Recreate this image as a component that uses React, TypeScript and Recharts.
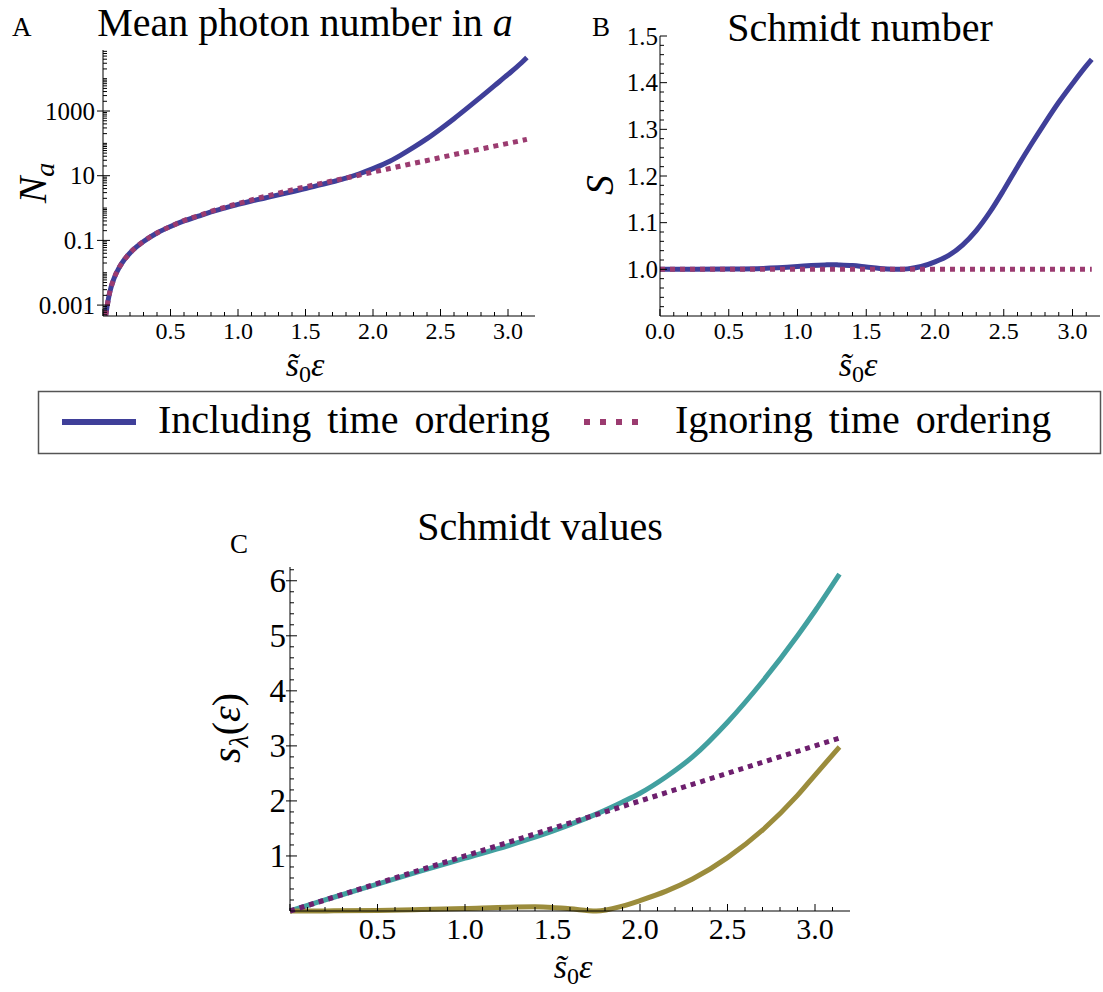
import { LineChart, Line, XAxis, YAxis } from 'recharts';

const FONT = "'Liberation Serif', 'DejaVu Serif', 'Noto Serif', Tinos, 'Times New Roman', Times, 'Nimbus Roman', FreeSerif, serif";
const BLUE = '#3f3f99';
const PINK = '#9b3b70';
const PURPLE = '#6e1f6e';
const TEAL = '#42a0a0';
const OLIVE = '#9b8c3c';

// Panel A: mean photon number (log scale)
const A_X = [0.02, 0.03, 0.05, 0.08, 0.12, 0.16, 0.2, 0.25, 0.3, 0.4, 0.5, 0.6, 0.7, 0.8, 0.9, 1.0, 1.1, 1.2, 1.3, 1.4, 1.5, 1.6, 1.7, 1.8, 1.9, 2.0, 2.1, 2.2, 2.3, 2.4, 2.5, 2.6, 2.7, 2.8, 2.9, 3.0, 3.1, 3.14];
const A_SOLID = [0.00048, 0.0009, 0.0025, 0.0064, 0.0145, 0.026, 0.041, 0.064, 0.093, 0.17, 0.27, 0.4, 0.55, 0.76, 1.0, 1.3, 1.65, 2.05, 2.55, 3.2, 4.0, 5.1, 6.5, 8.4, 11.5, 16.5, 25, 42, 75, 140, 280, 580, 1250, 2750, 6100, 13500, 31000, 45000];
const A_DASHED = [0.00048, 0.0009, 0.0025, 0.0064, 0.0145, 0.026, 0.041, 0.064, 0.093, 0.17, 0.27, 0.41, 0.57, 0.79, 1.05, 1.38, 1.78, 2.28, 2.89, 3.64, 4.53, 5.6, 6.9, 8.5, 10.5, 13, 15.9, 19.6, 24.2, 29.5, 36.5, 45, 55, 67, 82, 100, 122, 133];

// Panel B: Schmidt number
const B_X = [0, 0.25, 0.5, 0.75, 1.0, 1.1, 1.2, 1.25, 1.3, 1.4, 1.5, 1.6, 1.7, 1.75, 1.8, 1.9, 2.0, 2.1, 2.2, 2.3, 2.4, 2.5, 2.6, 2.7, 2.8, 2.9, 3.0, 3.1, 3.14];
const B_SOLID = [1.0, 1.0, 1.0005, 1.002, 1.006, 1.008, 1.0095, 1.01, 1.0095, 1.008, 1.005, 1.002, 1.0003, 1.0, 1.001, 1.006, 1.016, 1.03, 1.052, 1.083, 1.123, 1.17, 1.22, 1.268, 1.314, 1.358, 1.398, 1.436, 1.45];
const B_DASHED = [1, 1, 1, 1, 1, 1, 1, 1, 1, 1, 1, 1, 1, 1, 1, 1, 1, 1, 1, 1, 1, 1, 1, 1, 1, 1, 1, 1, 1];

// Panel C: Schmidt values
const C_X = [0, 0.1, 0.25, 0.5, 0.75, 1.0, 1.25, 1.4, 1.5, 1.6, 1.75, 1.9, 2.0, 2.15, 2.3, 2.5, 2.7, 2.9, 3.0, 3.14];
const C_FIRST = [0, 0.1, 0.25, 0.49, 0.73, 0.96, 1.19, 1.34, 1.45, 1.57, 1.76, 1.98, 2.14, 2.44, 2.8, 3.43, 4.17, 5.0, 5.45, 6.12];
const C_SECOND = [0, 0, 0.003, 0.01, 0.025, 0.045, 0.07, 0.075, 0.065, 0.04, 0, 0.09, 0.19, 0.36, 0.58, 0.97, 1.47, 2.1, 2.47, 2.98];
const C_IGNORED = [0, 0.1, 0.25, 0.5, 0.75, 1.0, 1.25, 1.4, 1.5, 1.6, 1.75, 1.9, 2.0, 2.15, 2.3, 2.5, 2.7, 2.9, 3.0, 3.14];

// ticks
const X_TICKS = [0, 0.1, 0.2, 0.3, 0.4, 0.5, 0.6, 0.7, 0.8, 0.9, 1.0, 1.1, 1.2, 1.3, 1.4, 1.5, 1.6, 1.7, 1.8, 1.9, 2.0, 2.1, 2.2, 2.3, 2.4, 2.5, 2.6, 2.7, 2.8, 2.9, 3.0, 3.1];
const A_Y_MAJOR = [0.001, 0.1, 10, 1000];
const B_Y_MAJOR = [1.0, 1.1, 1.2, 1.3, 1.4, 1.5];
const C_Y_MAJOR = [1, 2, 3, 4, 5, 6];

const A_Y_TICKS: number[] = [];
for (let k = -4; k <= 4; k++) {
  for (let m = 1; m <= 9; m++) {
    const v = m * Math.pow(10, k);
    if (v >= 0.00046 && v <= 77000) A_Y_TICKS.push(v);
  }
}
const B_Y_TICKS: number[] = [];
for (let i = 46; i <= 75; i++) B_Y_TICKS.push(i / 50);
const C_Y_TICKS: number[] = [];
for (let i = 1; i <= 31; i++) C_Y_TICKS.push(i / 5);

const aData = A_X.map((x, i) => ({ x, solid: A_SOLID[i], dashed: A_DASHED[i] }));
const bData = B_X.map((x, i) => ({ x, solid: B_SOLID[i], dashed: B_DASHED[i] }));
const cData = C_X.map((x, i) => ({ x, first: C_FIRST[i], second: C_SECOND[i], ignored: C_IGNORED[i] }));

const near = (a: number, list: number[]) => list.some(b => Math.abs(a - b) < 1e-6 * Math.max(1, Math.abs(b)) + 1e-9);

const XTick = (props: any) => {
  const { x, y, payload, labelZero, fs, base } = props;
  const v = payload.value;
  const major = Math.abs(v * 2 - Math.round(v * 2)) < 1e-6;
  const show = major && (labelZero || v > 0.01);
  return (
    <g>
      <line x1={x} x2={x} y1={y} y2={y - (major ? 7 : 4)} stroke="#000" strokeWidth={1} />
      {show && (
        <text x={x} y={y + base} textAnchor="middle" fontSize={fs} style={{ fontFamily: FONT }} fill="#000">
          {v.toFixed(1)}
        </text>
      )}
    </g>
  );
};

const YTick = (props: any) => {
  const { x, y, payload, majors, fmt, fs, gap, out } = props;
  const v = payload.value;
  const major = near(v, majors);
  return (
    <g>
      <line x1={x - (major ? out : 0)} x2={x + (major ? 7 : 4)} y1={y} y2={y} stroke="#000" strokeWidth={1} />
      {major && (
        <text x={x - gap} y={y} dy="0.34em" textAnchor="end" fontSize={fs} style={{ fontFamily: FONT }} fill="#000">
          {fmt(v)}
        </text>
      )}
    </g>
  );
};

const axisLine = { stroke: '#000', strokeWidth: 1 };

const EpsLabel = ({ x, y }: { x: number; y: number }) => (
  <text x={x} y={y} fontSize={34} textAnchor="middle">
    <tspan fontStyle="italic">{'s\u0303'}</tspan>
    <tspan fontSize={24} dy={6}>0</tspan>
    <tspan fontStyle="italic" dy={-6}>ε</tspan>
  </text>
);

const App = () => {
  return (
    <div style={{ position: 'absolute', left: 0, top: 0, width: 1103, height: 992, background: '#fff', fontFamily: FONT }}>
      <div style={{ position: 'absolute', left: 0, top: 0 }}>
        <LineChart width={560} height={360} data={aData} margin={{ top: 50, right: 25, bottom: 0, left: 0 }}>
          <XAxis type="number" dataKey="x" domain={[0, 3.2]} ticks={X_TICKS} interval={0} height={44}
            tickSize={0} tickMargin={0} tickLine={false} axisLine={axisLine}
            tick={<XTick labelZero={false} fs={24} base={23} />} />
          <YAxis type="number" scale="log" domain={[0.00046, 77000]} allowDataOverflow ticks={A_Y_TICKS} interval={0} width={103}
            tickSize={0} tickMargin={0} tickLine={false} axisLine={axisLine}
            tick={<YTick majors={A_Y_MAJOR} fmt={(v: number) => String(v)} fs={25} gap={8} out={6} />} />
          <Line type="monotone" dataKey="solid" stroke={BLUE} strokeWidth={5} dot={false} isAnimationActive={false} />
          <Line type="monotone" dataKey="dashed" stroke={PINK} strokeWidth={5} strokeDasharray="5 5" dot={false} isAnimationActive={false} />
        </LineChart>
      </div>
      <div style={{ position: 'absolute', left: 560, top: 0 }}>
        <LineChart width={543} height={360} data={bData} margin={{ top: 36, right: 3, bottom: 0, left: 0 }}>
          <XAxis type="number" dataKey="x" domain={[0, 3.2]} ticks={X_TICKS} interval={0} height={44}
            tickSize={0} tickMargin={0} tickLine={false} axisLine={axisLine}
            tick={<XTick labelZero={true} fs={24} base={23} />} />
          <YAxis type="number" domain={[0.9, 1.5]} allowDataOverflow ticks={B_Y_TICKS} interval={0} width={100}
            tickSize={0} tickMargin={0} tickLine={false} axisLine={axisLine}
            tick={<YTick majors={B_Y_MAJOR} fmt={(v: number) => v.toFixed(1)} fs={25} gap={2} out={0} />} />
          <Line type="monotone" dataKey="solid" stroke={BLUE} strokeWidth={5} dot={false} isAnimationActive={false} />
          <Line type="monotone" dataKey="dashed" stroke={PINK} strokeWidth={5} strokeDasharray="5 5" dot={false} isAnimationActive={false} />
        </LineChart>
      </div>
      <div style={{ position: 'absolute', left: 150, top: 540 }}>
        <LineChart width={730} height={420} data={cData} margin={{ top: 27, right: 30, bottom: 0, left: 0 }}>
          <XAxis type="number" dataKey="x" domain={[0, 3.2]} ticks={X_TICKS} interval={0} height={49}
            tickSize={0} tickMargin={0} tickLine={false} axisLine={axisLine}
            tick={<XTick labelZero={false} fs={30} base={28} />} />
          <YAxis type="number" domain={[0, 6.25]} ticks={C_Y_TICKS} interval={0} width={140}
            tickSize={0} tickMargin={0} tickLine={false} axisLine={axisLine}
            tick={<YTick majors={C_Y_MAJOR} fmt={(v: number) => String(Math.round(v))} fs={33} gap={4} out={4} />} />
          <Line type="monotone" dataKey="first" stroke={TEAL} strokeWidth={5} dot={false} isAnimationActive={false} />
          <Line type="monotone" dataKey="second" stroke={OLIVE} strokeWidth={5} dot={false} isAnimationActive={false} />
          <Line type="monotone" dataKey="ignored" stroke={PURPLE} strokeWidth={5} strokeDasharray="5 5" dot={false} isAnimationActive={false} />
        </LineChart>
      </div>

      <svg width={1103} height={992} style={{ position: 'absolute', left: 0, top: 0, pointerEvents: 'none', fontFamily: FONT }}>
        {/* panel A */}
        <text x={12} y={36} fontSize={27}>A</text>
        <text x={305} y={36} fontSize={40} textAnchor="middle">
          Mean photon number in <tspan fontStyle="italic">a</tspan>
        </text>
        <text x={46} y={183} fontSize={40} textAnchor="middle" transform="rotate(-90 46 183)">
          <tspan fontStyle="italic">N</tspan>
          <tspan fontStyle="italic" fontSize={28} dy={8}>a</tspan>
        </text>
        <EpsLabel x={305} y={376} />

        {/* panel B */}
        <text x={592} y={36} fontSize={27}>B</text>
        <text x={860} y={41} fontSize={40} textAnchor="middle">Schmidt number</text>
        <text x={613} y={185} fontSize={40} textAnchor="middle" fontStyle="italic" transform="rotate(-90 613 185)">S</text>
        <EpsLabel x={858} y={376} />

        {/* legend */}
        <rect x={38.5} y={391.5} width={1062} height={62} fill="none" stroke="#555" strokeWidth={1.5} />
        <line x1={62} x2={136} y1={422} y2={422} stroke={BLUE} strokeWidth={6} />
        <text x={158} y={433} fontSize={40} wordSpacing={6}>Including time ordering</text>
        <line x1={584} x2={647} y1={422} y2={422} stroke={PINK} strokeWidth={6} strokeDasharray="6 10" />
        <text x={675} y={433} fontSize={40} wordSpacing={6}>Ignoring time ordering</text>

        {/* panel C */}
        <text x={230} y={553} fontSize={27}>C</text>
        <text x={540} y={540} fontSize={40} textAnchor="middle">Schmidt values</text>
        <text x={240} y={728} fontSize={40} textAnchor="middle" transform="rotate(-90 240 728)">
          <tspan fontStyle="italic">s</tspan>
          <tspan fontStyle="italic" fontSize={28} dy={8}>λ</tspan>
          <tspan dy={-8}>(</tspan>
          <tspan fontStyle="italic">ε</tspan>
          <tspan>)</tspan>
        </text>
        <EpsLabel x={573} y={978} />
      </svg>
    </div>
  );
};

export default App;
